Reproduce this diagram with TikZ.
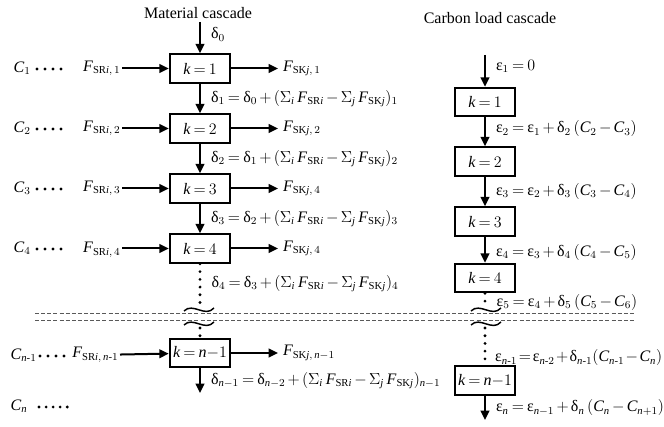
\documentclass[tikz,border=0pt]{standalone}
\usepackage{amsmath}
\usepackage{fontspec}
\setmainfont{Liberation Serif}
\usetikzlibrary{arrows.meta}
\thickmuskip=3.5mu plus 2mu
\medmuskip=2.5mu plus 1mu
\newcommand{\iv}[1]{\textit{#1}}
\newcommand{\dl}{\text{δ}}
\newcommand{\ep}{\text{ε}}
\newcommand{\sumterm}{(\Sigma_{\iv{i}}\,\iv{F}_{\text{SR}\iv{i}} - \Sigma_{\iv{j}}\,\iv{F}_{\text{SK}\iv{j}})}
\tikzset{
  box/.style={draw, line width=1.5pt, minimum width=45.5pt, minimum height=21.5pt, inner sep=0pt},
  flow/.style={line width=1.5pt, -{Triangle[length=7pt, width=6.5pt]}},
  lbl/.style={anchor=west, inner sep=0pt, xshift=7.5pt},
  vdots/.style={line width=2.3pt, line cap=round, dash pattern=on 0pt off 5.8pt},
  hdots/.style={line width=2.3pt, line cap=round, dash pattern=on 0pt off 6pt},
  cutline/.style={line width=0.7pt, black!65, dash pattern=on 3pt off 1.6pt},
  brk/.style={line width=1.1pt},
}

\begin{document}
\begin{tikzpicture}[x=0.75pt, y=-0.75pt, font=\fontsize{12}{14}\selectfont]
\useasboundingbox (0,0) rectangle (664,427);
% titles
\node (mtitle) at (198,13) {Material cascade};
\node (ctitle) at (490,18) {Carbon load cascade};
% material cascade
\node[box] (m1) at (200,68.5) {$\iv{k} = 1$};
\node[box] (m2) at (200,128.5) {$\iv{k} = 2$};
\node[box] (m3) at (200,188.5) {$\iv{k} = 3$};
\node[box] (m4) at (200,248.5) {$\iv{k} = 4$};
\node[box] (mn) at (200,353) {$\iv{k} = \iv{n}{-}1$};
\coordinate (m0) at (200,22);
\coordinate (m4brk) at (200,304);
\coordinate (mnbrk) at (200,328);
\coordinate (mend) at (200,393);
\draw[flow] (m0) -- (m1) node[lbl, pos=0.4] (d0) {$\dl_0$};
\draw[flow] (m1) -- (m2) node[lbl, midway] (d1) {$\dl_1 = \dl_0 + \sumterm_1$};
\draw[flow] (m2) -- (m3) node[lbl, midway] (d2) {$\dl_2 = \dl_1 + \sumterm_2$};
\draw[flow] (m3) -- (m4) node[lbl, midway] (d3) {$\dl_3 = \dl_2 + \sumterm_3$};
\draw[vdots] (m4.south) -- (m4brk) node[lbl, pos=0.5] (d4) {$\dl_4 = \dl_3 + \sumterm_4$};
\draw[vdots] (mnbrk) -- (mn.north);
\draw[flow] (mn) -- (mend) node[lbl, midway] (dn) {$\dl_{\iv{n}-1} = \dl_{\iv{n}-2} + \sumterm_{\iv{n}-1}$};
% sources
\node[anchor=west] (c1) at (9,68.5) {$\iv{C}_1$};
\node[anchor=west] (c2) at (9,128.5) {$\iv{C}_2$};
\node[anchor=west] (c3) at (9,188.5) {$\iv{C}_3$};
\node[anchor=west] (c4) at (9,248.5) {$\iv{C}_4$};
\node[anchor=west] (cm) at (6,355) {$\iv{C}_{\iv{n}\text{-}1}$};
\node[anchor=west] (cn) at (6,406) {$\iv{C}_{\iv{n}}$};
\draw[hdots] (37,69) -- (62,69);
\draw[hdots] (37,129) -- (62,129);
\draw[hdots] (37,189) -- (62,189);
\draw[hdots] (37,249) -- (62,249);
\draw[hdots] (40,356) -- (65,356);
\draw[hdots, dash pattern=on 0pt off 5.3pt] (39,407) -- (68,407);
\node[anchor=east, inner sep=1pt] (s1) at (122,68.5) {$\iv{F}_{\text{SR}\iv{i},\,1}$};
\node[anchor=east, inner sep=1pt] (s2) at (122,128.5) {$\iv{F}_{\text{SR}\iv{i},\,2}$};
\node[anchor=east, inner sep=1pt] (s3) at (122,188.5) {$\iv{F}_{\text{SR}\iv{i},\,3}$};
\node[anchor=east, inner sep=1pt] (s4) at (122,250) {$\iv{F}_{\text{SR}\iv{i},\,4}$};
\node[anchor=east, inner sep=1pt] (sn) at (120,355) {$\iv{F}_{\text{SR}\iv{i},\,\iv{n}\text{-}1}$};
\draw[flow] (s1) -- (m1);
\draw[flow] (s2) -- (m2);
\draw[flow] (s3) -- (m3);
\draw[flow] (s4.east |- m4) -- (m4);
\draw[flow] (sn) -- (mn);
% sinks
\coordinate (o1) at (278,68.5);
\coordinate (o2) at (278,128.5);
\coordinate (o3) at (278,188.5);
\coordinate (o4) at (278,248.5);
\coordinate (on) at (278,353);
\draw[flow] (m1) -- (o1) node[anchor=west, inner sep=3pt] (k1) {$\iv{F}_{\text{SK}\iv{j},\,1}$};
\draw[flow] (m2) -- (o2) node[anchor=west, inner sep=3pt] (k2) {$\iv{F}_{\text{SK}\iv{j},\,2}$};
\draw[flow] (m3) -- (o3) node[anchor=west, inner sep=3pt] (k3) {$\iv{F}_{\text{SK}\iv{j},\,4}$};
\draw[flow] (m4) -- (o4) node[anchor=west, inner sep=3pt] (k4) {$\iv{F}_{\text{SK}\iv{j},\,4}$};
\draw[flow] (mn) -- (on) node[anchor=west, inner sep=3pt] (kn) {$\iv{F}_{\text{SK}\iv{j},\,\iv{n}-1}$};
% carbon load cascade
\node[box] (e1) at (485,102) {$\iv{k} = 1$};
\node[box] (e2) at (485,161.5) {$\iv{k} = 2$};
\node[box] (e3) at (485,221.5) {$\iv{k} = 3$};
\node[box] (e4) at (485,278) {$\iv{k} = 4$};
\node[box] (en) at (485,380.5) {$\iv{k} = \iv{n}{-}1$};
\coordinate (e0) at (485,55);
\coordinate (e4brk) at (485,305);
\coordinate (enbrk) at (485,328);
\coordinate (eend) at (485,420);
\draw[flow] (e0) -- (e1) node[lbl, pos=0.35] (g1) {$\ep_1 = 0$};
\draw[flow] (e1) -- (e2) node[lbl, pos=0.4] (g2) {$\ep_2 = \ep_1 + \dl_2\,(\iv{C}_2 - \iv{C}_3)$};
\draw[flow] (e2) -- (e3) node[lbl, midway] (g3) {$\ep_3 = \ep_2 + \dl_3\,(\iv{C}_3 - \iv{C}_4)$};
\draw[flow] (e3) -- (e4) node[lbl, pos=0.6] (g4) {$\ep_4 = \ep_3 + \dl_4\,(\iv{C}_4 - \iv{C}_5)$};
\draw[vdots] (e4.south) -- (e4brk) node[lbl, pos=0.75] (g5) {$\ep_5 = \ep_4 + \dl_5\,(\iv{C}_5 - \iv{C}_6)$};
\draw[vdots] (enbrk) -- (485,361) node[lbl, pos=0.9, xshift=-1pt] (gm) {$\thickmuskip=2mu \medmuskip=1.5mu \ep_{\iv{n}\text{-}1} = \ep_{\iv{n}\text{-}2} + \dl_{\iv{n}\text{-}1}(\iv{C}_{\iv{n}\text{-}1} - \iv{C}_{\iv{n}})$};
\draw[flow] (en) -- (eend) node[lbl, midway] (gn) {$\ep_{\iv{n}} = \ep_{\iv{n}-1} + \dl_{\iv{n}}\,(\iv{C}_{\iv{n}} - \iv{C}_{\iv{n}+1})$};
% break
\draw[cutline] (35,313) -- (636,313);
\draw[cutline] (35,320) -- (636,320);
\draw[brk] (184,311) .. controls (193,302) and (205,318) .. (214,308);
\draw[brk] (184,325) .. controls (193,316) and (205,332) .. (214,322);
\draw[brk] (471,311) .. controls (480,302) and (492,318) .. (501,308);
\draw[brk] (471,325) .. controls (480,316) and (492,332) .. (501,322);
\end{tikzpicture}
\end{document}
